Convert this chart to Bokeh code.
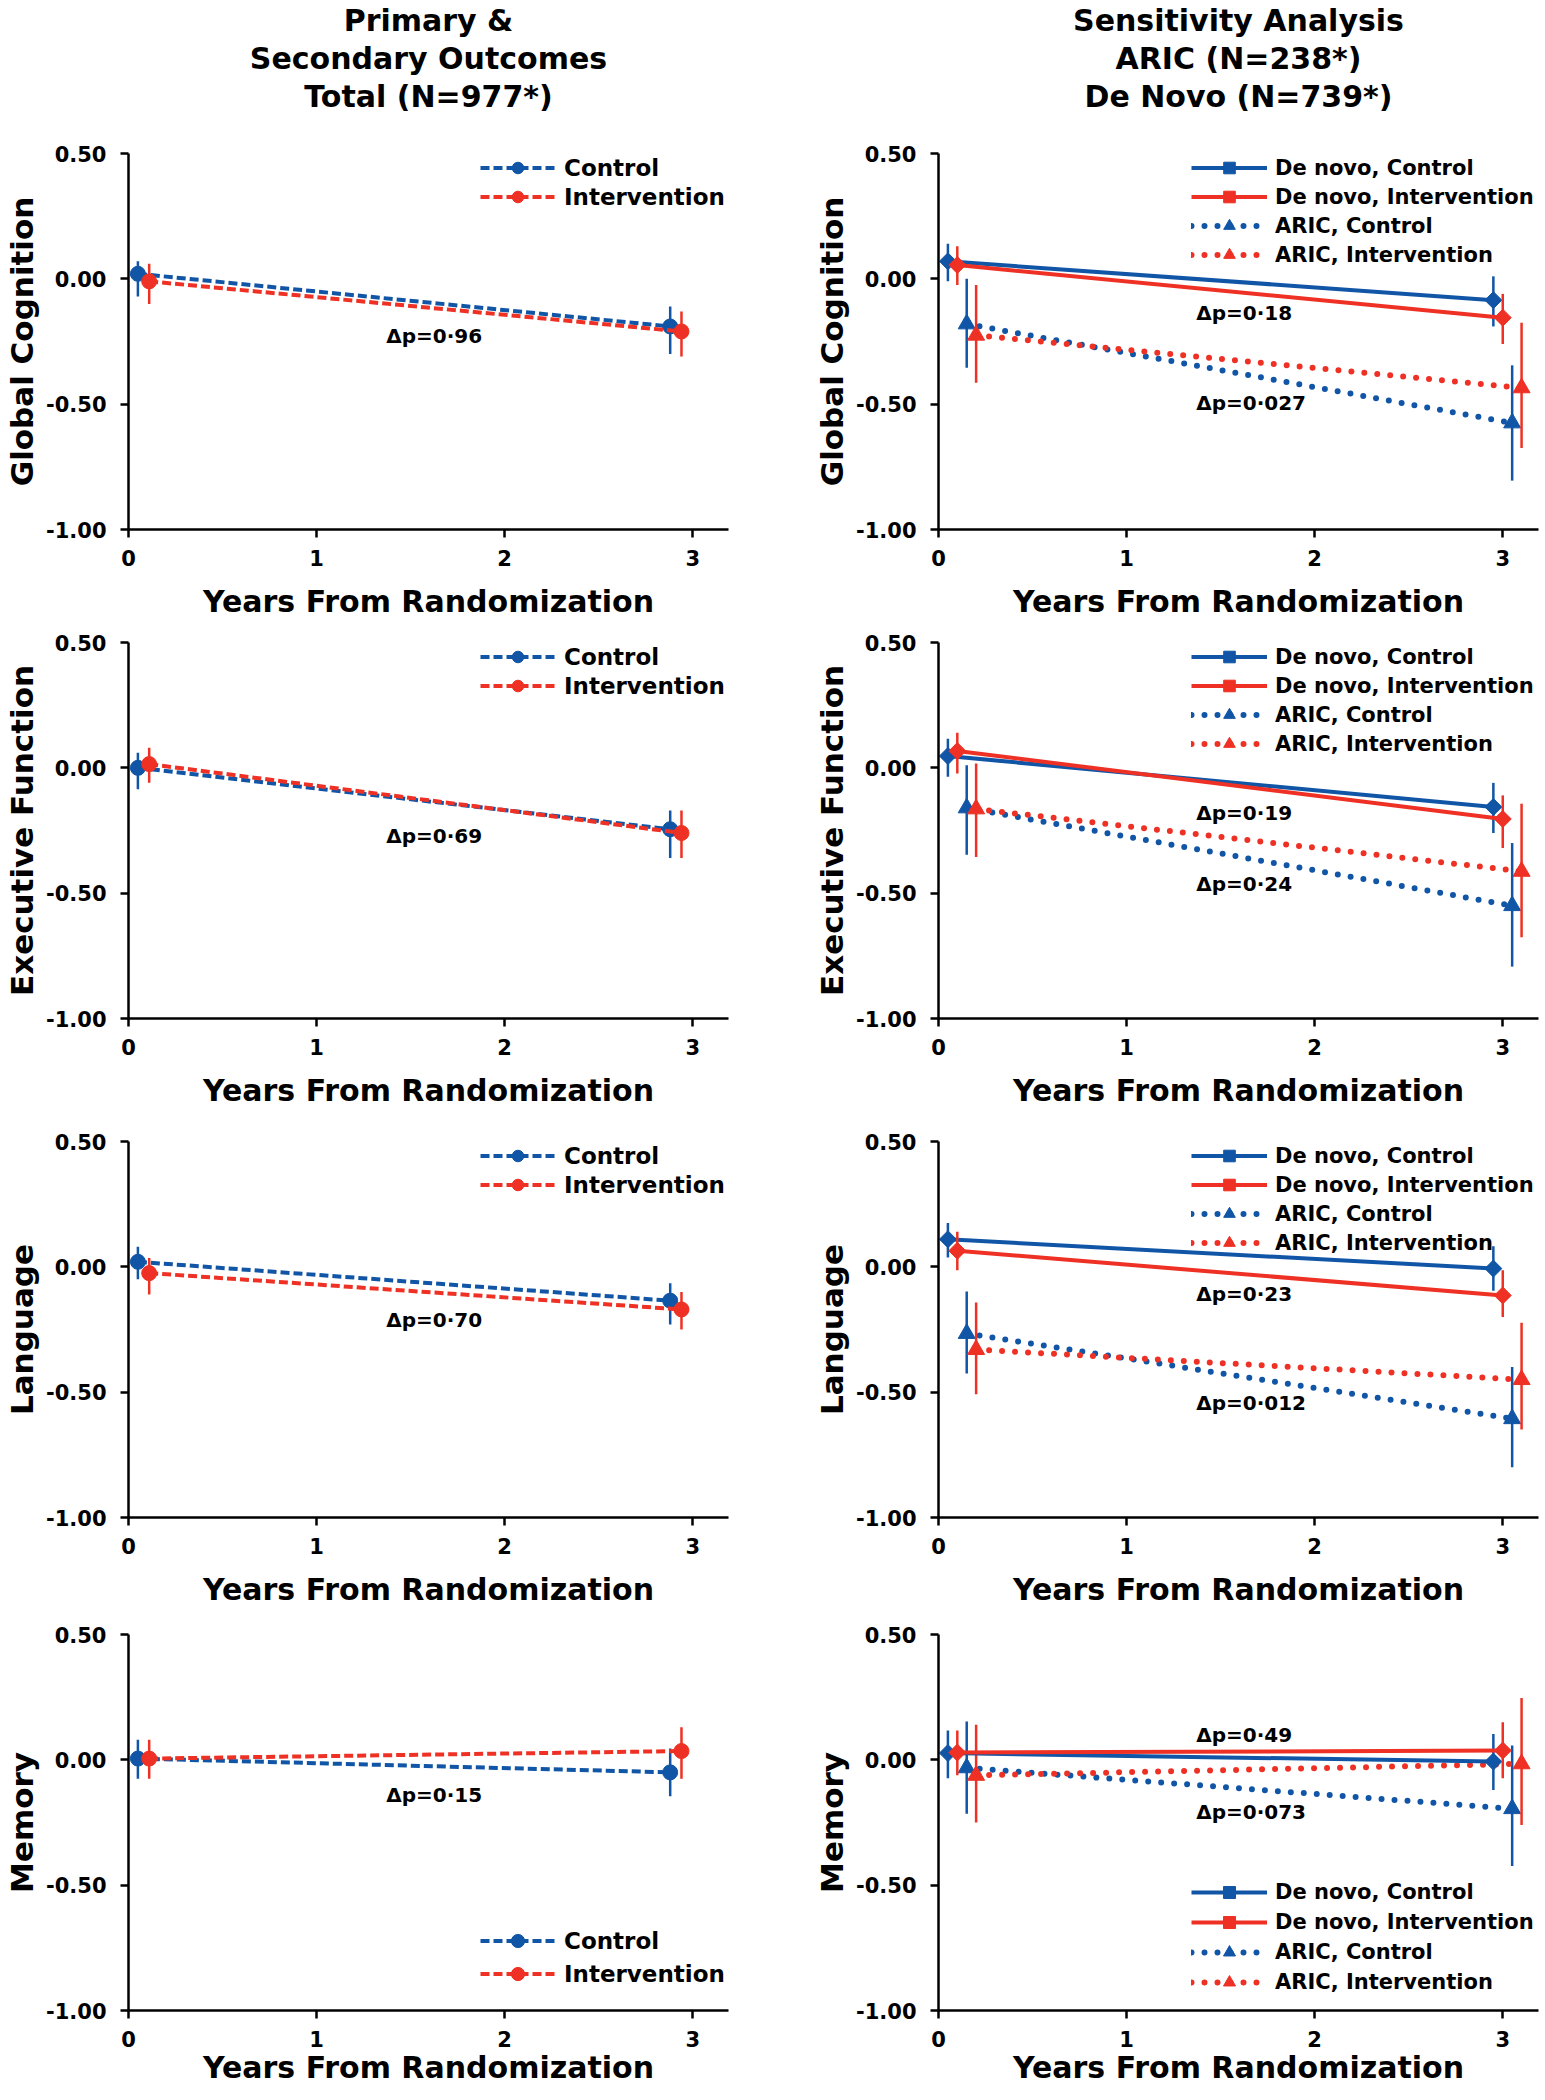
import math
from bokeh.plotting import figure
from bokeh.layouts import column, row
from bokeh.models import (Range1d, FixedTicker, NumeralTickFormatter, Legend,
                          LegendItem, Title)
from bokeh.embed import file_html
from bokeh.resources import INLINE
from bokeh.core.properties import value

# ---------------- data ----------------
x_ticks = [0, 1, 2, 3]
y_ticks = [-1.0, -0.5, 0.0, 0.5]
outcome_names = ["Global Cognition", "Executive Function", "Language", "Memory"]

left_titles = ["Primary &", "Secondary Outcomes", "Total (N=977*)"]
right_titles = ["Sensitivity Analysis", "ARIC (N=238*)", "De Novo (N=739*)"]

# years from randomization (plotted with small offsets)
years_ctrl = [0.05, 2.88]
years_int = [0.11, 2.94]
years_dn_ctrl = [0.05, 2.95]
years_dn_int = [0.10, 3.00]
years_aric_ctrl = [0.15, 3.05]
years_aric_int = [0.20, 3.10]

# Primary & secondary outcomes, total sample: mean, lower CI, upper CI
gc_ctrl = [0.02, -0.19];   gc_ctrl_lo = [-0.07, -0.30];  gc_ctrl_hi = [0.07, -0.11]
gc_int = [-0.01, -0.21];   gc_int_lo = [-0.10, -0.31];   gc_int_hi = [0.06, -0.13]
ef_ctrl = [0.00, -0.245];  ef_ctrl_lo = [-0.085, -0.36]; ef_ctrl_hi = [0.06, -0.17]
ef_int = [0.015, -0.26];   ef_int_lo = [-0.06, -0.36];   ef_int_hi = [0.08, -0.17]
la_ctrl = [0.02, -0.135];  la_ctrl_lo = [-0.05, -0.23];  la_ctrl_hi = [0.08, -0.065]
la_int = [-0.025, -0.17];  la_int_lo = [-0.11, -0.25];   la_int_hi = [0.035, -0.10]
me_ctrl = [0.005, -0.05];  me_ctrl_lo = [-0.075, -0.145]; me_ctrl_hi = [0.08, 0.045]
me_int = [0.005, 0.035];   me_int_lo = [-0.075, -0.075]; me_int_hi = [0.08, 0.13]
primary_p = ["\u0394p=0\u00b796", "\u0394p=0\u00b769", "\u0394p=0\u00b770", "\u0394p=0\u00b715"]
primary_p_y = [-0.228, -0.273, -0.213, -0.14]

# Sensitivity analysis: de novo and ARIC subgroups
gc_dn_ctrl = [0.07, -0.085];   gc_dn_ctrl_lo = [-0.01, -0.19];   gc_dn_ctrl_hi = [0.14, 0.01]
gc_dn_int = [0.055, -0.155];   gc_dn_int_lo = [-0.025, -0.26];   gc_dn_int_hi = [0.13, -0.06]
gc_ar_ctrl = [-0.18, -0.575];  gc_ar_ctrl_lo = [-0.355, -0.805]; gc_ar_ctrl_hi = [0.0, -0.345]
gc_ar_int = [-0.225, -0.435];  gc_ar_int_lo = [-0.415, -0.675];  gc_ar_int_hi = [-0.025, -0.175]

ef_dn_ctrl = [0.047, -0.156];  ef_dn_ctrl_lo = [-0.036, -0.26];  ef_dn_ctrl_hi = [0.116, -0.06]
ef_dn_int = [0.067, -0.204];   ef_dn_int_lo = [-0.023, -0.32];   ef_dn_int_hi = [0.14, -0.11]
ef_ar_ctrl = [-0.16, -0.55];   ef_ar_ctrl_lo = [-0.347, -0.793]; ef_ar_ctrl_hi = [0.01, -0.30]
ef_ar_int = [-0.164, -0.413];  ef_ar_int_lo = [-0.356, -0.676]; ef_ar_int_hi = [0.017, -0.143]

la_dn_ctrl = [0.11, -0.007];   la_dn_ctrl_lo = [0.037, -0.095]; la_dn_ctrl_hi = [0.175, 0.082]
la_dn_int = [0.064, -0.114];   la_dn_int_lo = [-0.014, -0.20];  la_dn_int_hi = [0.14, -0.014]
la_ar_ctrl = [-0.266, -0.606]; la_ar_ctrl_lo = [-0.426, -0.80]; la_ar_ctrl_hi = [-0.098, -0.40]
la_ar_int = [-0.33, -0.45];    la_ar_int_lo = [-0.508, -0.649]; la_ar_int_hi = [-0.142, -0.223]

me_dn_ctrl = [0.027, -0.007];  me_dn_ctrl_lo = [-0.073, -0.12]; me_dn_ctrl_hi = [0.117, 0.103]
me_dn_int = [0.029, 0.037];    me_dn_int_lo = [-0.062, -0.073]; me_dn_int_hi = [0.117, 0.15]
me_ar_ctrl = [-0.032, -0.195]; me_ar_ctrl_lo = [-0.215, -0.424]; me_ar_ctrl_hi = [0.153, 0.057]
me_ar_int = [-0.062, -0.016];  me_ar_int_lo = [-0.25, -0.26];   me_ar_int_hi = [0.14, 0.247]

denovo_p = ["\u0394p=0\u00b718", "\u0394p=0\u00b719", "\u0394p=0\u00b723", "\u0394p=0\u00b749"]
denovo_p_y = [-0.138, -0.18, -0.107, 0.10]
aric_p = ["\u0394p=0\u00b7027", "\u0394p=0\u00b724", "\u0394p=0\u00b7012", "\u0394p=0\u00b7073"]
aric_p_y = [-0.495, -0.463, -0.543, -0.21]

# ---------------- style ----------------
BLUE = "#1155a6"
RED = "#ee3124"
FONT = "DejaVu Sans"
FRAME_W, FRAME_H = 600, 376
X_MAX = 3.19
Y_MIN, Y_MAX = -1.0, 0.5
P_TEXT_X = 1.37

primary_sets = [
    (gc_ctrl, gc_ctrl_lo, gc_ctrl_hi, gc_int, gc_int_lo, gc_int_hi),
    (ef_ctrl, ef_ctrl_lo, ef_ctrl_hi, ef_int, ef_int_lo, ef_int_hi),
    (la_ctrl, la_ctrl_lo, la_ctrl_hi, la_int, la_int_lo, la_int_hi),
    (me_ctrl, me_ctrl_lo, me_ctrl_hi, me_int, me_int_lo, me_int_hi),
]
sens_sets = [
    ((gc_dn_ctrl, gc_dn_ctrl_lo, gc_dn_ctrl_hi), (gc_dn_int, gc_dn_int_lo, gc_dn_int_hi),
     (gc_ar_ctrl, gc_ar_ctrl_lo, gc_ar_ctrl_hi), (gc_ar_int, gc_ar_int_lo, gc_ar_int_hi)),
    ((ef_dn_ctrl, ef_dn_ctrl_lo, ef_dn_ctrl_hi), (ef_dn_int, ef_dn_int_lo, ef_dn_int_hi),
     (ef_ar_ctrl, ef_ar_ctrl_lo, ef_ar_ctrl_hi), (ef_ar_int, ef_ar_int_lo, ef_ar_int_hi)),
    ((la_dn_ctrl, la_dn_ctrl_lo, la_dn_ctrl_hi), (la_dn_int, la_dn_int_lo, la_dn_int_hi),
     (la_ar_ctrl, la_ar_ctrl_lo, la_ar_ctrl_hi), (la_ar_int, la_ar_int_lo, la_ar_int_hi)),
    ((me_dn_ctrl, me_dn_ctrl_lo, me_dn_ctrl_hi), (me_dn_int, me_dn_int_lo, me_dn_int_hi),
     (me_ar_ctrl, me_ar_ctrl_lo, me_ar_ctrl_hi), (me_ar_int, me_ar_int_lo, me_ar_int_hi)),
]

row_tops = [153, 18, 28, 22]
row_bottoms = [95, 95, 95, 81]


def base_fig(border_right, border_top, border_bottom, ylabel, last):
    p = figure(frame_width=FRAME_W, frame_height=FRAME_H,
               x_range=Range1d(0, X_MAX), y_range=Range1d(Y_MIN, Y_MAX),
               output_backend="svg", toolbar_location=None, title=None,
               min_border_left=120, min_border_right=border_right,
               min_border_top=border_top, min_border_bottom=border_bottom,
               background_fill_color="white", border_fill_color="white")
    p.outline_line_color = None
    p.xgrid.visible = False
    p.ygrid.visible = False
    p.xaxis.ticker = FixedTicker(ticks=x_ticks)
    p.yaxis.ticker = FixedTicker(ticks=y_ticks)
    p.xaxis.formatter = NumeralTickFormatter(format="0")
    p.yaxis.formatter = NumeralTickFormatter(format="0.00")
    for ax in (p.xaxis[0], p.yaxis[0]):
        ax.axis_line_color = "black"
        ax.axis_line_width = 2.5
        ax.major_tick_line_color = "black"
        ax.major_tick_line_width = 2.5
        ax.major_tick_out = 8
        ax.major_tick_in = 0
        ax.minor_tick_out = 0
        ax.minor_tick_in = 0
        ax.major_label_text_font = FONT
        ax.major_label_text_font_style = "bold"
        ax.major_label_text_font_size = "21px"
        ax.major_label_text_color = "black"
        ax.axis_label_text_font = FONT
        ax.axis_label_text_font_style = "bold"
        ax.axis_label_text_font_size = "30px"
        ax.axis_label_text_color = "black"
    p.yaxis.axis_label_text_font_size = "31px"
    p.yaxis.major_label_standoff = 14
    p.yaxis.axis_label_standoff = 3
    p.yaxis.axis_label = ylabel
    p.xaxis.major_label_standoff = 12
    p.xaxis.axis_label_standoff = 0 if last else 15
    p.xaxis.axis_label = "Years From Randomization"
    return p


def add_titles(p, titles):
    # blank spacer nearest the frame, then the three heading lines (innermost first)
    p.add_layout(Title(text=" ", text_font=FONT, text_font_size="30px", standoff=2), "above")
    for t in reversed(titles):
        p.add_layout(Title(text=t, align="center", text_font=FONT, text_font_style="bold",
                           text_font_size="30px", text_color="black", standoff=1),
                     "above")


def make_legend(items, loc, item_h, font_size, glyph_w, standoff):
    return Legend(items=items, location=loc, orientation="vertical",
                  background_fill_alpha=0, border_line_color=None,
                  padding=0, margin=0, spacing=0,
                  glyph_width=glyph_w, glyph_height=item_h, label_height=item_h,
                  label_standoff=standoff, label_text_font=FONT,
                  label_text_font_style="bold", label_text_font_size=font_size,
                  label_text_color="black")


def draw_series(p, xs, ys, lo, hi, color, marker, msize, lw, dash, cap, angle=0.0):
    ln = p.line(xs, ys, line_color=color, line_width=lw, line_dash=dash, line_cap=cap)
    p.segment(x0=xs, y0=lo, x1=xs, y1=hi, line_color=color, line_width=2.5)
    sc = p.scatter(xs, ys, marker=marker, size=msize, angle=angle,
                   fill_color=color, line_color=color)
    return ln, sc


rows = []
for i in range(4):
    last = (i == 3)
    # ---- left: primary & secondary outcomes ----
    pl = base_fig(82, row_tops[i], row_bottoms[i], outcome_names[i], last)
    c, c_lo, c_hi, v, v_lo, v_hi = primary_sets[i]
    lc, sc_c = draw_series(pl, years_ctrl, c, c_lo, c_hi, BLUE, "circle", 15, 4, "9 4", "butt")
    li, sc_i = draw_series(pl, years_int, v, v_lo, v_hi, RED, "circle", 15, 4, "9 4", "butt")
    pl.text(x=[P_TEXT_X], y=[primary_p_y[i]], text=[primary_p[i]],
            text_font=value(FONT), text_font_style="bold", text_font_size="20px",
            text_baseline="middle", text_align="left", text_color="black")
    loc_l = (352, 20) if last else (352, 318)
    h_l = 33 if last else 29
    pl.add_layout(make_legend([LegendItem(label="Control", renderers=[lc, sc_c]),
                               LegendItem(label="Intervention", renderers=[li, sc_i])],
                              loc_l, h_l, "23px", 75, 9))

    # ---- right: sensitivity analysis ----
    pr = base_fig(7, row_tops[i], row_bottoms[i], outcome_names[i], last)
    dn_c, dn_i, ar_c, ar_i = sens_sets[i]
    l1, s1 = draw_series(pr, years_aric_ctrl, *ar_c, BLUE, "triangle", 17, 6, "0 13", "round")
    l2, s2 = draw_series(pr, years_aric_int, *ar_i, RED, "triangle", 17, 6, "0 13", "round")
    l3, s3 = draw_series(pr, years_dn_ctrl, *dn_c, BLUE, "square", 12, 4, "solid", "butt",
                         angle=math.pi / 4)
    l4, s4 = draw_series(pr, years_dn_int, *dn_i, RED, "square", 12, 4, "solid", "butt",
                         angle=math.pi / 4)
    pr.text(x=[P_TEXT_X, P_TEXT_X], y=[denovo_p_y[i], aric_p_y[i]],
            text=[denovo_p[i], aric_p[i]],
            text_font=value(FONT), text_font_style="bold", text_font_size="20px",
            text_baseline="middle", text_align="left", text_color="black")
    loc_r = (253, 13) if last else (253, 260)
    h_r = 30 if last else 29
    pr.add_layout(make_legend([LegendItem(label="De novo, Control", renderers=[l3, s3]),
                               LegendItem(label="De novo, Intervention", renderers=[l4, s4]),
                               LegendItem(label="ARIC, Control", renderers=[l1, s1]),
                               LegendItem(label="ARIC, Intervention", renderers=[l2, s2])],
                              loc_r, h_r, "21px", 76, 8))
    if i == 0:
        add_titles(pl, left_titles)
        add_titles(pr, right_titles)
    rows.append(row(pl, pr, spacing=0))

layout = column(*rows, spacing=0)

with open("out.html", "w") as f:
    f.write(file_html(layout, INLINE))
